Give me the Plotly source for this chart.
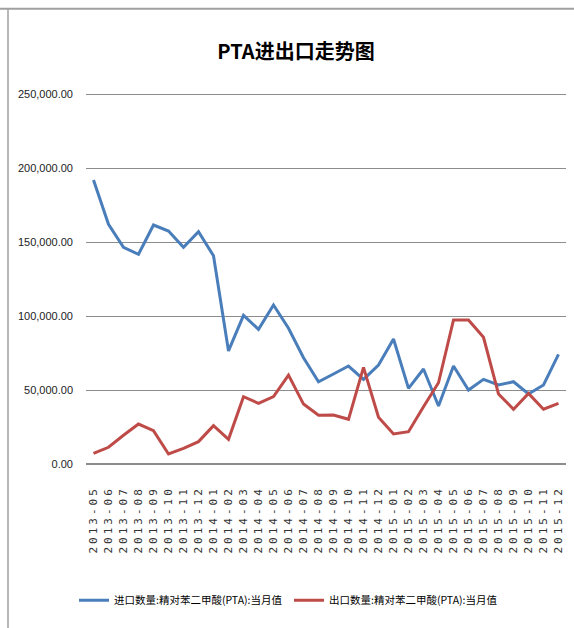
import plotly.graph_objects as go

months = ["2013-05","2013-06","2013-07","2013-08","2013-09","2013-10","2013-11","2013-12",
          "2014-01","2014-02","2014-03","2014-04","2014-05","2014-06","2014-07","2014-08",
          "2014-09","2014-10","2014-11","2014-12","2015-01","2015-02","2015-03","2015-04",
          "2015-05","2015-06","2015-07","2015-08","2015-09","2015-10","2015-11","2015-12"]

imports = [191900, 162000, 146400, 141700, 161500, 157400, 146400, 157000,
           140700, 76400, 100400, 91000, 107400, 91700, 71800, 55600,
           60800, 66200, 57200, 66900, 84500, 51100, 64200, 39200,
           66200, 50000, 57200, 53400, 55600, 47300, 53400, 74100]

exports = [7200, 11300, 19400, 27000, 22500, 6800, 10600, 15100,
           25900, 16700, 45500, 41000, 45500, 60100, 40500, 33000,
           33100, 30200, 65300, 31600, 20300, 21800, 38700, 54900,
           97300, 97300, 85600, 47300, 37000, 47700, 37000, 41000]

name_imp = "进口数量:精对苯二甲酸(PTA):当月值"
name_exp = "出口数量:精对苯二甲酸(PTA):当月值"

font_cjk = "Noto Sans CJK SC"

fig = go.Figure()
fig.add_trace(go.Scatter(x=months, y=imports, mode="lines", name=name_imp,
                         line=dict(color="#4a7ebb", width=3)))
fig.add_trace(go.Scatter(x=months, y=exports, mode="lines", name=name_exp,
                         line=dict(color="#be4b48", width=3)))

L, R, T, B = 86, 8, 94, 164
W, H = 574, 628
pw, ph = W - L - R, H - T - B

def px(x):
    return (x - L) / pw

def py(y):
    return (H - B - y) / ph

fig.update_layout(
    width=W, height=H,
    margin=dict(l=L, r=R, t=T - 1, b=B, autoexpand=False),
    paper_bgcolor="white", plot_bgcolor="white",
    title=dict(text="<b>PTA进出口走势图</b>", x=296 / W, xref="container", xanchor="center",
               y=1 - 52 / H, yanchor="middle",
               font=dict(family=font_cjk, size=20, color="#000000")),
    showlegend=True,
    legend=dict(orientation="h", x=px(74), xanchor="left", y=py(600), yanchor="middle",
                font=dict(family=font_cjk, size=10.5, color="#000000"),
                itemwidth=30, tracegroupgap=0, entrywidth=170, entrywidthmode="pixels"),
    font=dict(family="DejaVu Sans"),
)

fig.update_xaxes(type="category", range=[-0.5, 31.5], tickangle=-90,
                 tickfont=dict(family="DejaVu Sans Mono", size=11, color="#333333"),
                 showgrid=False, showline=False, ticks="", zeroline=False,
                 ticklabelstandoff=19)
fig.update_yaxes(range=[0, 250700], tickvals=[0, 50000, 100000, 150000, 200000, 250000],
                 tickformat=",.2f",
                 tickfont=dict(family="Liberation Sans", size=11, color="#222222"),
                 showgrid=True, gridcolor="#8c8c8c", gridwidth=1.2,
                 zeroline=True, zerolinecolor="#8c8c8c", zerolinewidth=2,
                 showline=False, ticks="", ticklabelstandoff=12)

# outer frame lines (sheet border look)
fig.add_shape(type="line", xref="paper", yref="paper", x0=px(0), x1=px(W), y0=py(10), y1=py(10),
              line=dict(color="#a0a0a0", width=2))
fig.add_shape(type="line", xref="paper", yref="paper", x0=px(8), x1=px(8), y0=py(10), y1=py(H),
              line=dict(color="#a0a0a0", width=1.5))

post = """
document.body.style.margin='0px';
function sp(){document.querySelectorAll('.xtick text').forEach(function(t){t.style.letterSpacing='3px';});}
sp(); setTimeout(sp, 50);
"""
fig.write_html("out.html", post_script=post, config={"displayModeBar": False})
